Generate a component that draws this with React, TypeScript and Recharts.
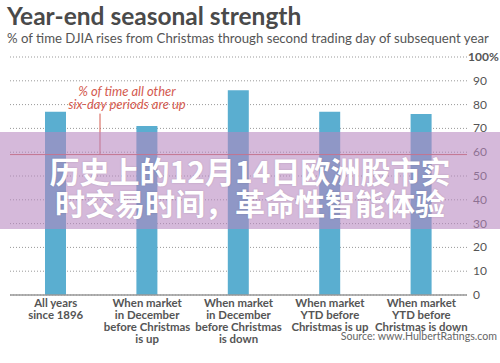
import React from 'react';
import { BarChart, Bar, XAxis, YAxis, CartesianGrid, ReferenceLine } from 'recharts';

const categories = ['all', 'decUp', 'decDown', 'ytdUp', 'ytdDown'];
const categoryLines = [
    ['All  years', 'since 1896'],
    ['When market', 'in December', 'before Christmas', 'is up'],
    ['When market', 'in December', 'before Christmas', 'is down'],
    ['When market', 'YTD before', 'Christmas is up'],
    ['When market', 'YTD before', 'Christmas is down'],
];
const pctUp = [77, 71, 86, 77, 76];
const otherPeriodsPct = 59;
const yTicks = [0, 10, 20, 30, 40, 50, 60, 70, 80, 90, 100];

const data = categories.map((c, i) => ({ key: c, idx: i, value: pctUp[i] }));

const FONT = 'Lato, "Open Sans", sans-serif';
const RED = '#d45a4f';

const XTick = (props: any) => {
    const { x, y, payload } = props;
    const lines = categoryLines[payload.index] || [];
    return (
        <text x={x} y={y + 4} textAnchor="middle" fontFamily={FONT} fontSize={11.4} fontWeight={700} fill="#555">
            {lines.map((l, i) => (
                <tspan key={i} x={x} dy={i === 0 ? 0 : 12}>{l}</tspan>
            ))}
        </text>
    );
};

const YTick = (props: any) => {
    const { x, y, payload } = props;
    const isTop = payload.value === 100;
    return (
        <text x={x - (isTop ? 5 : 0)} y={y + 4} textAnchor="start" fontFamily={FONT} fontSize={12} fontWeight={isTop ? 700 : 400} fill="#555">
            {isTop ? '100%' : payload.value}
        </text>
    );
};

const Annotation = (props: any) => {
    const { viewBox } = props;
    const lx = viewBox.x + 90;
    const cx = viewBox.x + 117;
    const y = viewBox.y;
    return (
        <g>
            <line x1={lx} x2={lx} y1={y - 41} y2={y} stroke={RED} strokeWidth={1} />
            <text x={cx} y={y - 59} textAnchor="middle" fontFamily={FONT} fontStyle="italic" fontSize={13} fill={RED}>
                % of time all other
            </text>
            <text x={cx} y={y - 46} textAnchor="middle" fontFamily={FONT} fontStyle="italic" fontSize={13} fill={RED}>
                six-day periods are up
            </text>
        </g>
    );
};

export default function App() {
    return (
        <div style={{ position: 'absolute', left: 0, top: 0, width: 500, height: 363, background: '#fff', fontFamily: FONT, overflow: 'hidden' }}>
            <div style={{ position: 'absolute', left: 7, top: 2, fontSize: 24.5, fontWeight: 700, color: '#4a4a4a', whiteSpace: 'nowrap', lineHeight: '28px' }}>
                Year-end seasonal strength
            </div>
            <div style={{ position: 'absolute', left: 7, top: 30, fontSize: 13.2, color: '#555', whiteSpace: 'nowrap', lineHeight: '16px' }}>
                % of time DJIA rises from Christmas through second trading day of subsequent year
            </div>
            <div style={{ position: 'absolute', left: 0, top: 0 }}>
                <BarChart width={500} height={363} data={data} margin={{ top: 57, right: 0, bottom: 0, left: 10 }}>
                    <CartesianGrid vertical={false} stroke="#999" strokeDasharray="1 2" />
                    <XAxis dataKey="key" height={68} tick={<XTick />} interval={0} tickLine={false} axisLine={{ stroke: '#999', strokeWidth: 1.5 }} />
                    <YAxis orientation="right" domain={[0, 100]} ticks={yTicks} interval={0} width={33} axisLine={false} tickLine={false} tick={<YTick />} tickMargin={0} />
                    <ReferenceLine y={otherPeriodsPct} stroke={RED} strokeWidth={1} label={<Annotation />} />
                    <Bar dataKey="value" fill="#5aaed0" barSize={21} isAnimationActive={false} />
                </BarChart>
            </div>
            <div style={{ position: 'absolute', right: 3, top: 329, fontSize: 10.6, lineHeight: '14px', color: '#666', whiteSpace: 'nowrap' }}>
                Source: www.HulbertRatings.com
            </div>
            <div style={{ position: 'absolute', left: 0, top: 132, width: 500, height: 97, background: 'rgba(182,135,192,0.58)' }}>
                <div style={{ paddingTop: 22, textAlign: 'center', color: '#fff', fontFamily: '"Noto Sans CJK SC", sans-serif', fontWeight: 700, fontSize: 30, lineHeight: '32px', textShadow: '0 0 2px rgba(0,0,0,0.15)' }}>
                    <div>历史上的12月14日欧洲股市实</div>
                    <div>时交易时间，革命性智能体验</div>
                </div>
            </div>
        </div>
    );
}
